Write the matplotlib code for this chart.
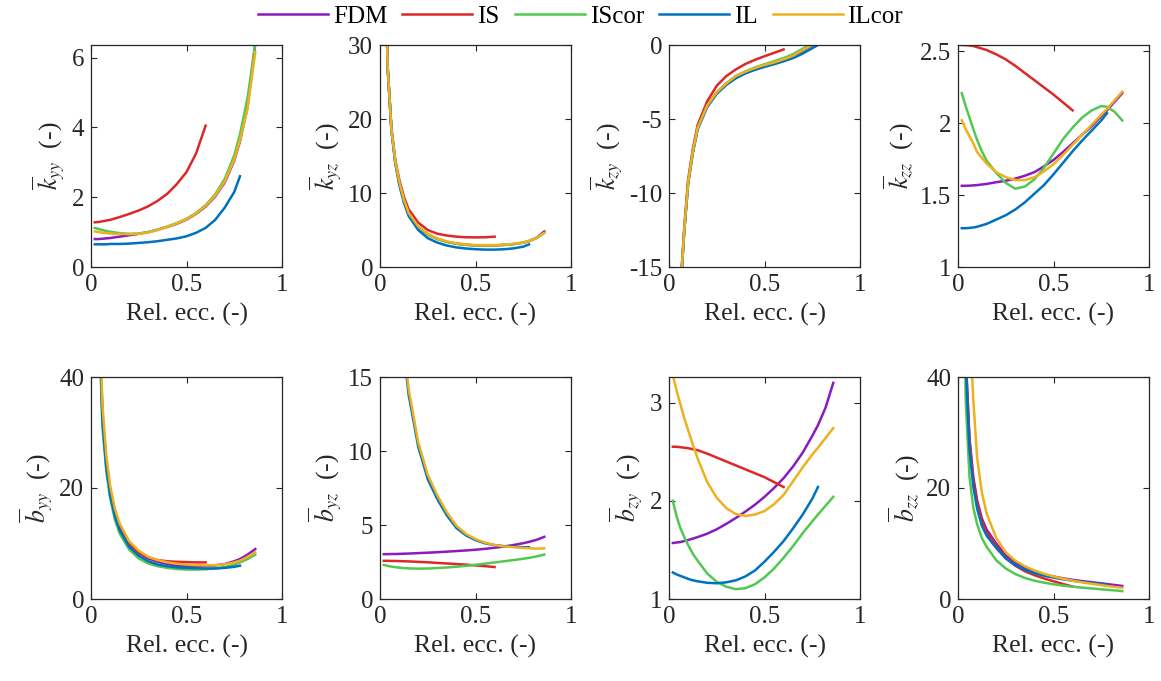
import numpy as np
import matplotlib
matplotlib.use('Agg')
import matplotlib.pyplot as plt

plt.rcParams['font.family'] = ['Liberation Serif', 'DejaVu Serif']
plt.rcParams['mathtext.fontset'] = 'stix'

# relative eccentricity grid
ecc = [0.02, 0.04, 0.06, 0.08, 0.10, 0.125, 0.15, 0.20, 0.25, 0.30, 0.35, 0.40,
       0.45, 0.50, 0.55, 0.60, 0.65, 0.70, 0.75, 0.78, 0.82, 0.86]

methods = ['FDM', 'IS', 'IScor', 'IL', 'ILcor']
colors = ['#8A1BBE', '#DC2828', '#52C852', '#0072BD', '#EDB120']

# k_yy
kyy_fdm = [0.80, 0.80, 0.81, 0.82, 0.83, 0.85, 0.87, 0.91, 0.95, 1.00, 1.07, 1.15, 1.24, 1.36, 1.52, 1.73, 2.02, 2.42, 3.05, 3.6, 4.6, 6.4]
kyy_is = [1.28, 1.29, 1.31, 1.33, 1.35, 1.39, 1.43, 1.52, 1.62, 1.74, 1.90, 2.10, 2.38, 2.72, 3.25, 4.05]
kyy_iscor = [1.12, 1.09, 1.06, 1.03, 1.01, 0.99, 0.97, 0.95, 0.96, 1.00, 1.07, 1.16, 1.26, 1.38, 1.55, 1.77, 2.08, 2.52, 3.2, 3.8, 4.85, 6.4]
kyy_il = [0.65, 0.65, 0.65, 0.65, 0.66, 0.66, 0.66, 0.67, 0.69, 0.71, 0.74, 0.78, 0.82, 0.88, 0.98, 1.12, 1.35, 1.70, 2.15, 2.6]
kyy_ilcor = [1.02, 1.00, 0.98, 0.97, 0.96, 0.95, 0.95, 0.94, 0.95, 0.99, 1.06, 1.15, 1.25, 1.37, 1.53, 1.75, 2.04, 2.45, 3.08, 3.62, 4.55, 6.15]

# k_yz
kyz_fdm = [50, 27, 18.5, 14.2, 11.5, 9.0, 7.2, 5.4, 4.4, 3.8, 3.4, 3.15, 3.0, 2.92, 2.9, 2.92, 2.98, 3.1, 3.3, 3.5, 3.95, 4.8]
kyz_is = [50, 27, 18.7, 14.5, 11.9, 9.5, 7.8, 6.0, 5.0, 4.5, 4.25, 4.1, 4.02, 4.0, 4.02, 4.1]
kyz_iscor = [50, 27, 18.5, 14.2, 11.5, 9.0, 7.2, 5.4, 4.4, 3.8, 3.4, 3.15, 3.0, 2.92, 2.9, 2.92, 2.98, 3.08, 3.28, 3.48, 3.9, 4.6]
kyz_il = [50, 27, 18.4, 14.0, 11.2, 8.7, 6.9, 5.0, 3.9, 3.3, 2.9, 2.65, 2.5, 2.4, 2.35, 2.35, 2.4, 2.52, 2.75, 3.05]
kyz_ilcor = [50, 27, 18.6, 14.3, 11.6, 9.1, 7.3, 5.5, 4.5, 3.85, 3.45, 3.2, 3.05, 2.97, 2.95, 2.96, 3.02, 3.14, 3.32, 3.52, 3.95, 4.6]

# k_zy
kzy_fdm = [-40, -22, -16.5, -12.5, -9.3, -7.2, -5.6, -4.1, -3.2, -2.6, -2.12, -1.82, -1.57, -1.37, -1.2, -1.0, -0.75, -0.4, -0.02, 0.25, 0.65, 1.15]
kzy_is = [-40, -22, -16.4, -12.3, -9.1, -7.0, -5.4, -3.8, -2.75, -2.1, -1.65, -1.28, -1.0, -0.76, -0.53, -0.3]
kzy_iscor = [-40, -22, -16.5, -12.5, -9.3, -7.2, -5.6, -4.1, -3.2, -2.6, -2.1, -1.78, -1.52, -1.3, -1.1, -0.88, -0.62, -0.25, 0.1, 0.4, 0.8, 1.3]
kzy_il = [-40, -22, -16.6, -12.6, -9.4, -7.3, -5.7, -4.2, -3.3, -2.7, -2.25, -1.92, -1.68, -1.48, -1.3, -1.1, -0.88, -0.58, -0.22, 0.0]
kzy_ilcor = [-40, -22, -16.5, -12.5, -9.3, -7.2, -5.6, -4.1, -3.2, -2.6, -2.1, -1.8, -1.55, -1.35, -1.18, -0.97, -0.72, -0.35, 0.02, 0.3, 0.7, 1.2]

# k_zz
kzz_fdm = [1.565, 1.565, 1.566, 1.568, 1.57, 1.574, 1.578, 1.59, 1.60, 1.615, 1.635, 1.66, 1.70, 1.745, 1.80, 1.86, 1.92, 1.98, 2.05, 2.09, 2.15, 2.21]
kzz_is = [2.545, 2.544, 2.542, 2.538, 2.53, 2.52, 2.51, 2.48, 2.445, 2.40, 2.35, 2.30, 2.25, 2.20, 2.145, 2.09]
kzz_iscor = [2.21, 2.12, 2.04, 1.96, 1.885, 1.805, 1.74, 1.655, 1.585, 1.545, 1.56, 1.61, 1.69, 1.79, 1.89, 1.97, 2.04, 2.09, 2.12, 2.115, 2.08, 2.02]
kzz_il = [1.27, 1.27, 1.272, 1.275, 1.28, 1.29, 1.30, 1.33, 1.36, 1.40, 1.45, 1.51, 1.57, 1.645, 1.725, 1.805, 1.88, 1.95, 2.02, 2.07]
kzz_ilcor = [2.02, 1.96, 1.91, 1.86, 1.80, 1.76, 1.72, 1.66, 1.625, 1.605, 1.605, 1.625, 1.665, 1.715, 1.78, 1.85, 1.92, 1.99, 2.06, 2.10, 2.16, 2.22]

# b_yy
byy_fdm = [100, 55, 33, 24.5, 19.5, 15.5, 13, 9.9, 8.3, 7.3, 6.7, 6.3, 6.0, 5.9, 5.85, 5.9, 6.05, 6.3, 6.8, 7.2, 8.0, 9.0]
byy_is = [100, 55, 33, 24.5, 19.5, 15.5, 13, 9.9, 8.4, 7.5, 7.0, 6.8, 6.7, 6.65, 6.6, 6.6]
byy_iscor = [100, 52, 31, 23, 18.2, 14.3, 11.8, 8.9, 7.3, 6.4, 5.9, 5.6, 5.4, 5.3, 5.3, 5.35, 5.5, 5.75, 6.2, 6.6, 7.2, 8.0]
byy_il = [100, 53, 32, 23.8, 18.8, 14.9, 12.4, 9.4, 7.8, 6.8, 6.2, 5.9, 5.7, 5.6, 5.55, 5.5, 5.5, 5.6, 5.8, 6.0]
byy_ilcor = [100, 57, 35, 26, 20.5, 16.3, 13.6, 10.4, 8.7, 7.6, 7.0, 6.6, 6.35, 6.2, 6.1, 6.05, 6.1, 6.25, 6.6, 6.9, 7.6, 8.4]

# b_yz
byz_fdm = [3.03, 3.03, 3.04, 3.04, 3.05, 3.06, 3.07, 3.1, 3.13, 3.16, 3.2, 3.24, 3.28, 3.33, 3.39, 3.46, 3.55, 3.65, 3.77, 3.86, 4.0, 4.2]
byz_is = [2.58, 2.58, 2.57, 2.57, 2.56, 2.55, 2.54, 2.51, 2.48, 2.44, 2.40, 2.36, 2.32, 2.27, 2.22, 2.16]
byz_iscor = [2.3, 2.24, 2.19, 2.15, 2.12, 2.09, 2.07, 2.05, 2.06, 2.09, 2.13, 2.18, 2.24, 2.31, 2.39, 2.47, 2.55, 2.63, 2.72, 2.78, 2.88, 3.0]
byz_il = [110, 55, 35.5, 26.5, 20.5, 16.6, 13.8, 10.3, 8.1, 6.75, 5.65, 4.8, 4.3, 3.98, 3.76, 3.64, 3.57, 3.53, 3.5, 3.5]
byz_ilcor = [110, 55, 36, 27, 21, 17, 14.2, 10.6, 8.4, 7.0, 5.85, 4.95, 4.4, 4.05, 3.8, 3.65, 3.55, 3.5, 3.45, 3.43, 3.4, 3.42]

# b_zy
bzy_fdm = [1.57, 1.575, 1.58, 1.59, 1.60, 1.615, 1.63, 1.665, 1.71, 1.765, 1.825, 1.89, 1.96, 2.04, 2.13, 2.23, 2.35, 2.49, 2.66, 2.77, 2.95, 3.2]
bzy_is = [2.55, 2.55, 2.545, 2.54, 2.535, 2.525, 2.515, 2.48, 2.44, 2.40, 2.36, 2.32, 2.28, 2.24, 2.19, 2.14]
bzy_iscor = [2.0, 1.84, 1.72, 1.63, 1.55, 1.46, 1.39, 1.26, 1.175, 1.125, 1.10, 1.11, 1.15, 1.22, 1.31, 1.42, 1.54, 1.67, 1.79, 1.86, 1.95, 2.04]
bzy_il = [1.27, 1.25, 1.235, 1.22, 1.205, 1.19, 1.18, 1.165, 1.16, 1.17, 1.19, 1.23, 1.29, 1.38, 1.48, 1.59, 1.72, 1.86, 2.02, 2.14]
bzy_ilcor = [3.28, 3.12, 2.98, 2.84, 2.72, 2.57, 2.43, 2.19, 2.03, 1.925, 1.865, 1.845, 1.86, 1.895, 1.965, 2.06, 2.2, 2.34, 2.47, 2.54, 2.64, 2.74]

# b_zz
bzz_fdm = [100, 44, 29, 22, 17.8, 14.5, 12.5, 10.0, 7.9, 6.5, 5.6, 4.95, 4.45, 4.05, 3.72, 3.45, 3.22, 3.02, 2.82, 2.7, 2.52, 2.35]
bzz_is = [100, 43.5, 28.5, 21.5, 17.3, 14.0, 12.0, 9.5, 7.4, 6.0, 5.0, 4.3, 3.7, 3.2, 2.7, 2.25]
bzz_iscor = [100, 36, 22, 16.5, 13.5, 11.0, 9.4, 7.0, 5.5, 4.5, 3.8, 3.3, 2.95, 2.65, 2.42, 2.22, 2.05, 1.9, 1.75, 1.66, 1.55, 1.42]
bzz_il = [100, 42, 27, 20.3, 16.3, 13.2, 11.4, 9.2, 7.3, 6.1, 5.25, 4.65, 4.2, 3.85, 3.55, 3.3, 3.08, 2.88, 2.7, 2.6]
bzz_ilcor = [100, 62, 50, 36, 25.5, 19.2, 15.4, 11.0, 8.4, 6.9, 5.9, 5.15, 4.55, 4.05, 3.65, 3.3, 3.0, 2.75, 2.5, 2.35, 2.18, 2.02]

panels = [
    ('k', 'yy', [kyy_fdm, kyy_is, kyy_iscor, kyy_il, kyy_ilcor], (0, 6.36), [0, 2, 4, 6]),
    ('k', 'yz', [kyz_fdm, kyz_is, kyz_iscor, kyz_il, kyz_ilcor], (0, 30), [0, 10, 20, 30]),
    ('k', 'zy', [kzy_fdm, kzy_is, kzy_iscor, kzy_il, kzy_ilcor], (-15, 0), [-15, -10, -5, 0]),
    ('k', 'zz', [kzz_fdm, kzz_is, kzz_iscor, kzz_il, kzz_ilcor], (1, 2.545), [1, 1.5, 2, 2.5]),
    ('b', 'yy', [byy_fdm, byy_is, byy_iscor, byy_il, byy_ilcor], (0, 40), [0, 20, 40]),
    ('b', 'yz', [byz_fdm, byz_is, byz_iscor, byz_il, byz_ilcor], (0, 15), [0, 5, 10, 15]),
    ('b', 'zy', [bzy_fdm, bzy_is, bzy_iscor, bzy_il, bzy_ilcor], (1, 3.26), [1, 2, 3]),
    ('b', 'zz', [bzz_fdm, bzz_is, bzz_iscor, bzz_il, bzz_ilcor], (0, 40), [0, 20, 40]),
]

fig = plt.figure(figsize=(11.61, 6.81), dpi=100)
W, H = 1161, 681
lefts = [91, 380, 669, 958]
tops = [45, 377]
ax_w, ax_h = 191, 222
axcol = '#262626'

handles = []
for i, (sym, sub, series, ylim, yticks) in enumerate(panels):
    r, c = divmod(i, 4)
    ax = fig.add_axes([lefts[c] / W, (H - tops[r] - ax_h) / H, ax_w / W, ax_h / H])
    for j, ys in enumerate(series):
        ln, = ax.plot(ecc[:len(ys)], ys, color=colors[j], lw=1.8, label=methods[j])
        if i == 0:
            handles.append(ln)
    ax.set_xlim(0, 1)
    ax.set_ylim(*ylim)
    ax.set_xticks([0, 0.5, 1])
    ax.set_xticklabels(['0', '0.5', '1'])
    ax.set_yticks(yticks)
    ax.set_yticklabels(['%g' % t for t in yticks])
    ax.tick_params(direction='in', top=True, right=True, length=4, width=0.8,
                   labelsize=18, colors=axcol, pad=5)
    for s in ax.spines.values():
        s.set_color(axcol)
        s.set_linewidth(0.9)
    ax.set_xlabel('Rel. ecc. (-)', fontsize=18.5, color=axcol, labelpad=5)
    ax.set_ylabel(r'$\overline{%s}_{%s}$  (-)' % (sym, sub), fontsize=18.5, color=axcol, labelpad=3)

fig.legend(handles, methods, loc='center', bbox_to_anchor=(0.5, 0.976), ncol=5,
           frameon=False, fontsize=18, handlelength=2.8, handletextpad=0.2,
           columnspacing=0.6, borderaxespad=0)

fig.savefig('out.png', dpi=100)
